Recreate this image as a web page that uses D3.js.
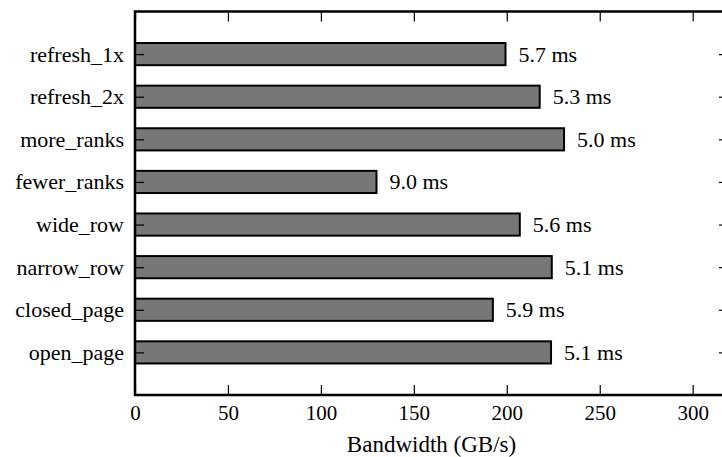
<!DOCTYPE html>
<html>
<head>
  <meta charset="utf-8">
  <script src="https://d3js.org/d3.v7.min.js"></script>
  <style>
    body { margin: 0; background: #fff; }
    text { font-family: "Times New Roman", "Liberation Serif", "DejaVu Serif", serif; }
  </style>
</head>
<body>
<div id="chart"></div>
<script>
  // data (bottom to top)
  var configs = ["open_page", "closed_page", "narrow_row", "wide_row",
                 "fewer_ranks", "more_ranks", "refresh_2x", "refresh_1x"];
  var bandwidth = [223.8, 192.5, 224.2, 207.0, 129.9, 230.8, 217.7, 199.3];
  var runtime = ["5.1 ms", "5.9 ms", "5.1 ms", "5.6 ms", "9.0 ms", "5.0 ms", "5.3 ms", "5.7 ms"];
  var xTicks = [0, 50, 100, 150, 200, 250, 300];

  var FONT = '"Times New Roman", "Liberation Serif", "DejaVu Serif", serif';

  var data = configs.map(function (c, i) {
    return { name: c, bw: bandwidth[i], label: runtime[i], idx: i };
  });

  var W = 722, H = 457;
  var margin = {top: 11.5, left: 135, bottom: 62};
  var plotRight = 728;

  var svg = d3.select("#chart").append("svg")
    .attr("width", W).attr("height", H);

  var x = d3.scaleLinear()
    .domain([0, 319])
    .range([margin.left, plotRight]);

  var y = d3.scaleLinear()
    .domain([-1, configs.length])
    .range([H - margin.bottom, margin.top]);

  var step = y(0) - y(1);
  var barH = step * 0.52;

  // bars
  svg.append("g").selectAll("rect")
    .data(data)
    .enter().append("rect")
      .attr("x", x(0))
      .attr("y", function (d) { return y(d.idx) - barH / 2; })
      .attr("width", function (d) { return x(d.bw) - x(0); })
      .attr("height", barH)
      .style("fill", "#777777")
      .style("stroke", "#000")
      .style("stroke-width", 2);

  // runtime labels
  svg.append("g").selectAll("text")
    .data(data)
    .enter().append("text")
      .attr("x", function (d) { return x(d.bw) + 13; })
      .attr("y", function (d) { return y(d.idx); })
      .attr("dy", "0.34em")
      .style("font-family", FONT)
      .style("font-size", "22px")
      .text(function (d) { return d.label; });

  var yB = y(-1), yT = y(configs.length);

  // axes with inward ticks
  var axBottom = svg.append("g")
    .attr("transform", "translate(0," + yB + ")")
    .call(d3.axisBottom(x).tickValues(xTicks).tickSize(-10).tickPadding(10));
  var axTop = svg.append("g")
    .attr("transform", "translate(0," + yT + ")")
    .call(d3.axisTop(x).tickValues(xTicks).tickSize(-10).tickFormat(""));
  var axLeft = svg.append("g")
    .attr("transform", "translate(" + x(0) + ",0)")
    .call(d3.axisLeft(y).tickValues(d3.range(configs.length)).tickSize(-9).tickPadding(11)
      .tickFormat(function (i) { return configs[i]; }));
  var axRight = svg.append("g")
    .attr("transform", "translate(" + plotRight + ",0)")
    .call(d3.axisRight(y).tickValues(d3.range(configs.length)).tickSize(-9).tickFormat(""));

  [axBottom, axTop, axLeft, axRight].forEach(function (g) {
    g.attr("font-family", null).attr("font-size", null);
    g.select(".domain").remove();
    g.selectAll(".tick line").style("stroke", "#000").style("stroke-width", 1.2);
    g.selectAll(".tick text")
      .style("font-family", FONT)
      .style("font-size", "22px")
      .style("fill", "#000");
  });
  axBottom.selectAll(".tick text").style("font-size", "21px");

  // frame
  svg.append("rect")
    .attr("x", x(0)).attr("y", yT)
    .attr("width", plotRight - x(0)).attr("height", yB - yT)
    .style("fill", "none").style("stroke", "#000").style("stroke-width", 2.5);

  svg.append("text")
    .attr("x", (x(0) + plotRight) / 2)
    .attr("y", 452)
    .attr("text-anchor", "middle")
    .style("font-family", FONT)
    .style("font-size", "23px")
    .text("Bandwidth (GB/s)");
</script>
</body>
</html>
